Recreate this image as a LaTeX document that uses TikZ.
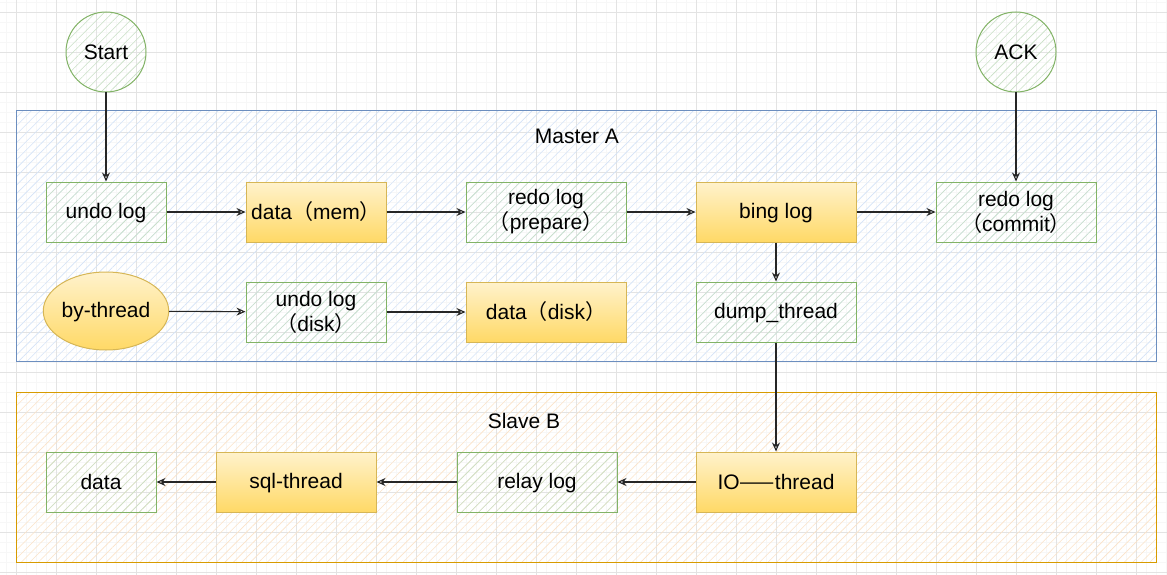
\documentclass[tikz,border=0pt]{standalone}
\usepackage{fontspec}
\setmainfont{Liberation Sans}
\newfontfamily\cjk{Noto Sans CJK SC}
\usetikzlibrary{arrows.meta,shapes.geometric,patterns.meta}
\definecolor{gstroke}{HTML}{82B366}
\definecolor{ghatch}{HTML}{C9E0C6}
\definecolor{ystroke}{HTML}{D6B656}
\definecolor{ytop}{HTML}{FFF2CC}
\definecolor{ybot}{HTML}{FFD966}
\definecolor{bstroke}{HTML}{6C8EBF}
\definecolor{bhatch}{HTML}{D4E3F7}
\definecolor{ostroke}{HTML}{D79B00}
\definecolor{ohatch}{HTML}{FBE3C8}
\definecolor{gridmaj}{HTML}{E3E3E3}
\definecolor{gridmin}{HTML}{F7F7F7}
\newcommand{\st}{\vphantom{\cjk（）}}
\tikzset{
  hatch/.style={pattern={Lines[angle=45,distance=6pt,line width=0.6pt]},pattern color=#1},
  gbox/.style={draw=gstroke,line width=1pt,hatch=ghatch,align=center,inner sep=0pt,
    minimum width=160pt,minimum height=60pt,execute at begin node=\st},
  ybox/.style={draw=ystroke,line width=1pt,top color=ytop,bottom color=ybot,align=center,inner sep=0pt,
    minimum width=160pt,minimum height=60pt,execute at begin node=\st},
  gcirc/.style={circle,draw=gstroke,line width=1pt,hatch=ghatch,minimum size=80pt,inner sep=0pt},
  arr/.style={-{Stealth[open,length=9pt,width=8pt]},line width=1.1pt,black!85},
  lbl/.style={inner sep=0pt}
}
\newcommand{\fp}[1]{{\cjk（}#1{\cjk）}}
\begin{document}
\begin{tikzpicture}[x=1pt,y=-1pt,font=\fontsize{21}{25}\selectfont]
\useasboundingbox (0,0) rectangle (1167,575);
\fill[white] (0,0) rectangle (1167,575);
% grid
\foreach \x in {6,26,...,1166} \draw[gridmin,line width=0.8pt] (\x,0) -- (\x,575);
\foreach \x in {36,76,...,1166} \draw[gridmin,line width=0.8pt] (\x,0) -- (\x,575);
\foreach \y in {2,22,...,575} \draw[gridmin,line width=0.8pt] (0,\y) -- (1167,\y);
\foreach \y in {32,72,...,575} \draw[gridmin,line width=0.8pt] (0,\y) -- (1167,\y);
\foreach \x in {16,56,...,1166} \draw[gridmaj,line width=0.8pt] (\x,0) -- (\x,575);
\foreach \y in {12,52,...,575} \draw[gridmaj,line width=0.8pt] (0,\y) -- (1167,\y);
% containers
\path[draw=bstroke,line width=1pt,hatch=bhatch] (16,111) rectangle (1156,361);
\path[draw=ostroke,line width=1pt,hatch=ohatch] (16,392) rectangle (1156,562);
\node[lbl] (masterlbl) at (577,136) {\st Master A};
\node[lbl] (slavelbl) at (524,421) {\st Slave B};
% nodes
\node[gcirc] (start) at (106,52) {\st Start};
\node[gcirc] (ack) at (1016,52) {\st ACK};
\node[gbox,minimum width=120pt] (undo) at (106,212) {undo log};
\node[ybox,minimum width=140pt] (datamem) at (316,212) {data\fp{mem}};
\node[gbox] (redop) at (546,212) {redo log\\\fp{prepare}};
\node[ybox] (bing) at (776,212) {bing log};
\node[gbox] (redoc) at (1016,212) {redo log\\\fp{commit}};
\node[ellipse,draw=ystroke,line width=1pt,top color=ytop,bottom color=ybot,minimum width=124pt,minimum height=78pt,inner sep=0pt] (by) at (106,311) {\st by-thread};
\node[gbox,minimum width=140pt] (undodisk) at (316,312) {undo log\\\fp{disk}};
\node[ybox] (datadisk) at (546,312) {data\fp{disk}};
\node[gbox] (dump) at (776,312) {dump\_thread};
\node[gbox,minimum width=110pt] (data) at (101,482) {data};
\node[ybox] (sql) at (296,482) {sql-thread};
\node[gbox] (relay) at (537,482) {relay log};
\node[ybox] (io) at (776,482) {IO{\cjk——}thread};
% connectors
\draw[arr] (start) -- (undo);
\draw[arr] (ack) -- (redoc);
\draw[arr] (undo) -- (datamem);
\draw[arr] (datamem) -- (redop);
\draw[arr] (redop) -- (bing);
\draw[arr] (bing) -- (redoc);
\draw[arr] (bing) -- (dump);
\draw[arr] (by) -- (undodisk);
\draw[arr] (undodisk) -- (datadisk);
\draw[arr] (dump) -- (io);
\draw[arr] (io) -- (relay);
\draw[arr] (relay) -- (sql);
\draw[arr] (sql) -- (data);
\end{tikzpicture}
\end{document}
